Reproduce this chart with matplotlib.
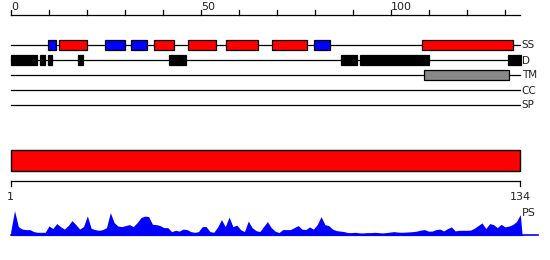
import numpy as np
import matplotlib
matplotlib.use('Agg')
import matplotlib.pyplot as plt
from matplotlib.patches import Rectangle

# Data ========================================================================
seq_len = 134
tick_pos = list(range(0, 131, 10))
tick_labels = {0: '0', 50: '50', 100: '100'}

track_names = ['SS', 'D', 'TM', 'CC', 'SP']

# secondary structure: (start, end, kind)  h = helix, e = strand
ss_start = [9.9, 12.8, 24.9, 31.7, 37.8, 46.7, 56.7, 68.8, 79.9, 108.2]
ss_end = [11.8, 20.0, 30.0, 35.9, 42.9, 53.9, 65.0, 77.9, 83.9, 132.1]
ss_kind = ['e', 'h', 'e', 'e', 'h', 'h', 'h', 'h', 'e', 'h']

# disorder segments
dis_start = [0.0, 7.7, 9.8, 17.7, 41.7, 87.0, 92.0, 130.9]
dis_end = [6.8, 9.0, 10.9, 19.0, 46.1, 91.1, 110.0, 134.2]

# transmembrane
tm_start = [108.8]
tm_end = [131.1]

# domain bar
dom_start = 1
dom_end = 134

# PS profile, one value per residue
ps_scores = [
    4, 25, 9, 6.5, 6, 6, 4, 3.3, 3.3, 3.3,
    9.7, 7, 12, 9, 6.5, 10, 15, 11, 6.5, 9,
    19.7, 7.3, 6, 5.3, 6, 8, 23, 13, 9.5, 9,
    10, 11, 9, 13, 18, 19.5, 19, 11.3, 11, 10,
    8, 8, 4, 5.3, 4.5, 6.5, 6, 4, 3.3, 4,
    9, 9, 4, 3.3, 8.5, 16, 9, 18.5, 9, 10.5,
    6, 4, 14.5, 8, 5, 4, 9, 14, 8, 4.5,
    3, 6, 6, 6, 8, 10, 6.5, 6, 8.7, 6.5,
    11, 19, 11, 10, 6.5, 5, 4.5, 4, 3, 3,
    3.3, 2.7, 2.7, 3, 3, 3.3, 3, 2.7, 3, 3.5,
    4, 3.5, 3.3, 3.5, 3.7, 4, 4.5, 5.5, 6, 4.5,
    4.5, 6, 6.5, 4.7, 7, 8.7, 4.7, 5.3, 5.3, 5.3,
    5.5, 7.3, 10, 12.7, 7, 12, 11, 8, 11.3, 8.7,
    9.5, 11, 14, 21,
]

# Figure ======================================================================
W, H = 550, 260
fig = plt.figure(figsize=(W / 100, H / 100), dpi=100)
txt = '#222222'

# top panel: 0-based residue axis
x0 = 10.7
ppu = 3.8
ax = fig.add_axes([0, 0, 1, 1])
ax.set_xlim(-x0 / ppu, (W - x0) / ppu)
ax.set_ylim(H, 0)
ax.axis('off')

# ruler
ax.plot([0, seq_len], [14.5, 14.5], color='black', lw=0.9)
for t in tick_pos:
    ax.plot([t, t], [14.5, 10.3], color='black', lw=0.9)
    if t in tick_labels:
        ax.text(t + 0.1, 9.6, tick_labels[t], ha='left', va='baseline',
                fontsize=8, color=txt)

track_y = [45, 60, 75, 90, 105]
bh = 10.4
for name, y in zip(track_names, track_y):
    ax.plot([0, seq_len], [y, y], color='black', lw=0.9, zorder=1)
    ax.text(seq_len + 0.45, y + 0.5, name, ha='left', va='center',
            fontsize=7.5, color=txt)

ss_col = {'h': '#ff0000', 'e': '#0000ff'}
for s, e, k in zip(ss_start, ss_end, ss_kind):
    ax.add_patch(Rectangle((s, track_y[0] - bh / 2), e - s, bh,
                           facecolor=ss_col[k], edgecolor='black', lw=0.9,
                           zorder=2))
for s, e in zip(dis_start, dis_end):
    ax.add_patch(Rectangle((s, track_y[1] - bh / 2), e - s, bh,
                           facecolor='black', edgecolor='black', lw=0.9,
                           zorder=2))
for s, e in zip(tm_start, tm_end):
    ax.add_patch(Rectangle((s, track_y[2] - bh / 2), e - s, bh,
                           facecolor='#888888', edgecolor='black', lw=0.9,
                           zorder=2))

# bottom panel: 1-based residue axis
ppu2 = (520.3 - x0) / (seq_len - 1)
bx = fig.add_axes([0, 0, 1, 1])
bx.patch.set_alpha(0)
bx.set_xlim(1 - x0 / ppu2, 1 + (W - x0) / ppu2)
bx.set_ylim(H, 0)
bx.axis('off')

# domain bar
bx.add_patch(Rectangle((dom_start, 150.3), dom_end - dom_start, 20.2,
                       facecolor='#ff0000', edgecolor='black', lw=1.0))

# ruler 1..134
bx.plot([dom_start, dom_end], [180.6, 180.6], color='black', lw=0.9)
for t in (dom_start, dom_end):
    bx.plot([t, t], [180.6, 186], color='black', lw=0.9)
    bx.text(t, 200.5, str(t), ha='center', va='baseline', fontsize=8,
            color=txt)

# PS profile
base = 235.6
res = np.arange(1, seq_len + 1)
ps = np.array(ps_scores)
xs = np.concatenate([[1], res, [seq_len + 0.5]])
ys = np.concatenate([[0], ps, [0]])
bx.fill_between(xs, base, base - ys, color='#0000ff', lw=0, zorder=3)
bx.plot([1, 1 + (538 - x0) / ppu2], [base - 0.3, base - 0.3], color='#0000ff',
        lw=1.2, zorder=3)
bx.text(seq_len + 0.4, 215.5, 'PS', ha='left', va='baseline', fontsize=8,
        color=txt)

plt.savefig('out.png', dpi=100)
